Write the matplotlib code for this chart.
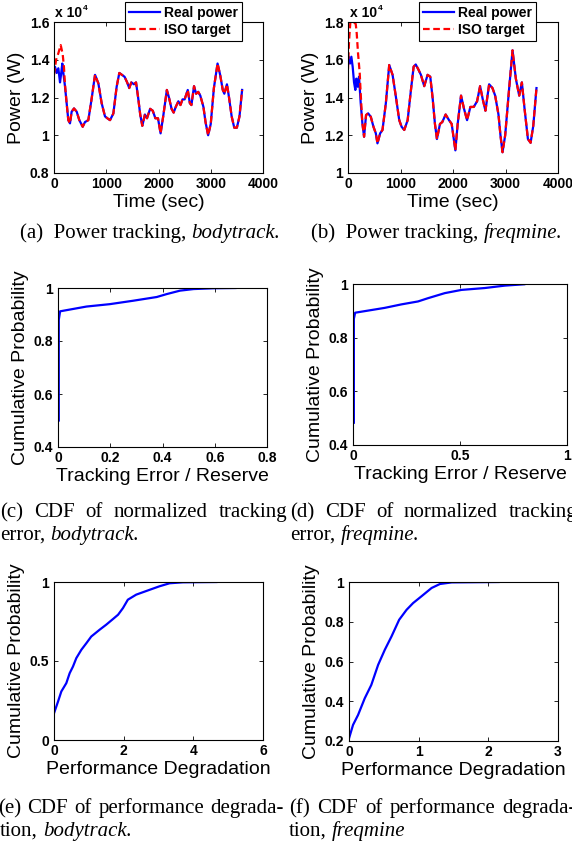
import matplotlib
matplotlib.use('Agg')
import matplotlib.pyplot as plt
from matplotlib.ticker import FuncFormatter

# ---- power tracking, bodytrack (W) ----
t_real_a = [0, 19, 51, 83, 115, 134, 159, 179, 210, 242]
p_real_a = [13300, 13630, 13300, 13550, 12800, 13200, 13800, 13300, 12600, 11700]
t_iso_a = [0, 40, 83, 128, 166, 191, 210, 242]
p_iso_a = [13200, 14000, 14340, 14780, 14300, 13600, 12700, 11700]
# after the start-up both curves overlap
t_tail_a = [274, 306, 338, 383, 434, 485, 549, 593, 657, 721, 785, 849, 912, 976,
            1021, 1072, 1136, 1199, 1250, 1300, 1350, 1400, 1440, 1480, 1530, 1570,
            1610, 1650, 1690, 1740, 1780, 1840, 1890, 1940, 1990, 2040, 2090, 2160,
            2200, 2250, 2290, 2330, 2380, 2420, 2460, 2500, 2560, 2600, 2630, 2680,
            2720, 2760, 2800, 2860, 2900, 2950, 3000, 3060, 3130, 3180, 3230, 3260,
            3310, 3350, 3400, 3450, 3500, 3550, 3600]
p_tail_a = [10800, 10630, 11250, 11420, 11250, 10800, 10450, 10700, 10800, 11950,
            13200, 12750, 11700, 11000, 10900, 10800, 11150, 12570, 13300, 13200,
            13100, 12800, 12500, 12800, 12700, 12800, 12000, 11100, 10500, 11100,
            10900, 11400, 11300, 10900, 10900, 10100, 11000, 12400, 12000, 11400,
            11200, 11500, 11800, 11600, 11900, 11900, 12400, 11700, 11600, 12600,
            12200, 12300, 12100, 11500, 10700, 10000, 10600, 12500, 13800, 13200,
            12400, 12200, 12700, 12000, 11000, 10400, 10400, 11000, 12400]

# ---- power tracking, freqmine (W) ----
t_real_b = [0, 13, 38, 64, 89, 115, 140, 159, 185, 210, 242]
p_real_b = [15800, 16160, 15800, 16160, 15630, 14800, 14400, 15000, 14570, 15100, 13700]
t_iso_b = [0, 20, 45, 100, 147, 166, 191, 223, 242]
p_iso_b = [15500, 17000, 18000, 18000, 17900, 17400, 16340, 15300, 14200]
t_tail_b = [274, 306, 344, 383, 434, 485, 530, 561, 612, 657, 721, 785, 849, 912,
            976, 1021, 1072, 1136, 1199, 1250, 1290, 1338, 1389, 1452, 1516, 1567,
            1611, 1656, 1694, 1752, 1796, 1860, 1924, 1975, 2045, 2089, 2153, 2210,
            2268, 2331, 2395, 2459, 2516, 2567, 2618, 2688, 2752, 2803, 2866, 2904,
            2943, 2994, 3070, 3134, 3197, 3261, 3312, 3363, 3427, 3478, 3529, 3590]
p_tail_b = [12630, 11920, 13070, 13160, 12980, 12450, 12100, 11570, 12100, 12280,
            13700, 15720, 15200, 14040, 12800, 12450, 12280, 12800, 14400, 15630,
            15750, 15500, 15200, 14600, 15200, 15100, 14000, 12600, 11800, 12600,
            12700, 13100, 12800, 12600, 11200, 12600, 14100, 13400, 12800, 13500,
            13500, 13800, 14600, 13900, 13300, 14700, 14500, 14100, 13100, 12000,
            11100, 12000, 14500, 16500, 15000, 14100, 14800, 13400, 11800, 11600,
            12500, 14500]

# ---- CDF of normalized tracking error ----
err_c = [0.003, 0.003, 0.008, 0.109, 0.198, 0.288, 0.378, 0.416, 0.467, 0.519, 0.595, 0.679]
cdf_c = [0.50, 0.88, 0.912, 0.930, 0.939, 0.952, 0.966, 0.977, 0.990, 0.996, 0.999, 1.0]
err_d = [0.004, 0.004, 0.010, 0.148, 0.226, 0.304, 0.350, 0.429, 0.507, 0.616, 0.710, 0.800]
cdf_d = [0.483, 0.87, 0.893, 0.911, 0.924, 0.935, 0.947, 0.966, 0.978, 0.985, 0.994, 0.999]

# ---- CDF of performance degradation ----
deg_e = [0.0, 0.115, 0.21, 0.354, 0.45, 0.545, 0.64, 0.785, 0.93, 1.07, 1.31, 1.50,
         1.69, 1.84, 1.98, 2.12, 2.36, 2.75, 3.03, 3.32, 3.70, 4.66]
cdf_e = [0.169, 0.243, 0.307, 0.36, 0.423, 0.465, 0.518, 0.571, 0.613, 0.655, 0.698,
         0.73, 0.765, 0.793, 0.835, 0.888, 0.92, 0.951, 0.973, 0.992, 0.998, 1.0]
deg_f = [0.0, 0.058, 0.13, 0.226, 0.32, 0.418, 0.514, 0.61, 0.72, 0.826, 0.92, 1.04,
         1.186, 1.306, 1.474, 2.146]
cdf_f = [0.213, 0.281, 0.331, 0.415, 0.482, 0.583, 0.659, 0.726, 0.81, 0.86, 0.894,
         0.928, 0.97, 0.99, 0.998, 1.0]

plt.rcParams['font.family'] = ['Liberation Sans', 'DejaVu Sans']
plt.rcParams['font.weight'] = 'bold'
plt.rcParams['axes.linewidth'] = 0.8
plt.rcParams['xtick.direction'] = 'in'
plt.rcParams['ytick.direction'] = 'in'
plt.rcParams['xtick.top'] = True
plt.rcParams['ytick.right'] = True
plt.rcParams['xtick.major.size'] = 3
plt.rcParams['ytick.major.size'] = 3
plt.rcParams['xtick.major.width'] = 0.6
plt.rcParams['ytick.major.width'] = 0.6
plt.rcParams['xtick.labelsize'] = 10
plt.rcParams['ytick.labelsize'] = 10
plt.rcParams['xtick.major.pad'] = 3
plt.rcParams['ytick.major.pad'] = 3.5

W, H = 572, 841
fig = plt.figure(figsize=(W / 100, H / 100), dpi=100)
renderer = fig.canvas.get_renderer()


def px_axes(l, t, r, b):
    return fig.add_axes([l / W, 1 - b / H, (r - l) / W, (b - t) / H])


def style(ax, xlim, xticks, ylim, yticks, xlabel, ylabel, yscale=1.0):
    ax.set_xlim(xlim)
    ax.set_xticks(xticks)
    ax.set_ylim(ylim)
    ax.set_yticks(yticks)
    ax.xaxis.set_major_formatter(FuncFormatter(lambda v, p: '%g' % v))
    ax.yaxis.set_major_formatter(FuncFormatter(lambda v, p: '%g' % (v / yscale)))
    ax.set_xlabel(xlabel, fontsize=14, fontweight='normal', labelpad=2)
    ax.set_ylabel(ylabel, fontsize=14, fontweight='normal', labelpad=3)


def text_w(s, **kw):
    t = fig.text(0, 0, s, **kw)
    w = t.get_window_extent(renderer).width
    t.remove()
    return w


def pieces(x, y, parts, center=False):
    # parts: list of (text, fontstyle); a space goes between parts
    kw = dict(fontsize=15, fontweight='normal', family='Liberation Serif')
    sp = text_w('a a', **kw) - text_w('aa', **kw)
    widths = [text_w(s, fontstyle=st, **kw) for s, st in parts]
    total = sum(widths) + sp * (len(parts) - 1)
    cur = x - total / 2 if center else x
    for (s, st), w in zip(parts, widths):
        fig.text(cur / W, 1 - y / H, s, fontstyle=st, ha='left',
                 va='center_baseline', **kw)
        cur += w + sp


def justify(x0, x1, y, words):
    kw = dict(fontsize=15, fontweight='normal', family='Liberation Serif')
    widths = [text_w(s, **kw) for s in words]
    gap = (x1 - x0 - sum(widths)) / (len(words) - 1)
    cur = x0
    for s, w in zip(words, widths):
        fig.text(cur / W, 1 - y / H, s, ha='left', va='center_baseline', **kw)
        cur += w + gap


def exponent(ax, x, y):
    t = fig.text(x / W, 1 - y / H, 'x 10', fontsize=10, ha='left', va='center')
    ax.annotate('4', xy=(1, 0.55), xycoords=t, xytext=(0.5, 0),
                textcoords='offset points', fontsize=6, ha='left', va='bottom')


def power_panel(ax, t_real, p_real, t_iso, p_iso, t_tail, p_tail, ylim, legend_right):
    ax.plot(t_real + t_tail, p_real + p_tail, color='blue', lw=1.6, label='Real power')
    ax.plot(t_iso + t_tail, p_iso + p_tail, color='red', lw=1.6, dashes=(3, 1.6),
            label='ISO target')
    leg = ax.legend(loc='upper right', bbox_to_anchor=(legend_right / W, 1 - 2 / H),
                    bbox_transform=fig.transFigure, fontsize=10, fancybox=False,
                    edgecolor='black', framealpha=1, borderaxespad=0,
                    handlelength=2.2, borderpad=0.3, labelspacing=0.2,
                    handletextpad=0.3)
    leg.get_frame().set_linewidth(0.8)
    style(ax, (0, 4000), [0, 1000, 2000, 3000, 4000], ylim,
          [ylim[0] + i * 2000 for i in range(5)], 'Time (sec)', 'Power (W)', yscale=1e4)


ax_a = px_axes(54, 22, 263, 173)
power_panel(ax_a, t_real_a, p_real_a, t_iso_a, p_iso_a, t_tail_a, p_tail_a,
            (8000, 16000), 242)
exponent(ax_a, 55, 13)

ax_b = px_axes(348, 22, 558, 173)
power_panel(ax_b, t_real_b, p_real_b, t_iso_b, p_iso_b, t_tail_b, p_tail_b,
            (10000, 18000), 536)
exponent(ax_b, 350, 13)

ax_c = px_axes(58, 288, 267, 447)
ax_c.plot(err_c, cdf_c, color='blue', lw=1.6)
style(ax_c, (0, 0.8), [0, 0.2, 0.4, 0.6, 0.8], (0.4, 1), [0.4, 0.6, 0.8, 1],
      'Tracking Error / Reserve', 'Cumulative Probability')

ax_d = px_axes(353, 284, 567, 445)
ax_d.plot(err_d, cdf_d, color='blue', lw=1.6)
style(ax_d, (0, 1), [0, 0.5, 1], (0.4, 1), [0.4, 0.6, 0.8, 1],
      'Tracking Error / Reserve', 'Cumulative Probability')

ax_e = px_axes(54, 582, 263, 740)
ax_e.plot(deg_e, cdf_e, color='blue', lw=1.6)
style(ax_e, (0, 6), [0, 2, 4, 6], (0, 1), [0, 0.5, 1],
      'Performance Degradation', 'Cumulative Probability')

ax_f = px_axes(349, 582, 558, 741)
ax_f.plot(deg_f, cdf_f, color='blue', lw=1.6)
style(ax_f, (0, 3), [0, 1, 2, 3], (0.2, 1), [0.2, 0.4, 0.6, 0.8, 1],
      'Performance Degradation', 'Cumulative Probability')

# captions
pieces(150, 231, [('(a)  Power tracking,', 'normal'), ('bodytrack.', 'italic')], center=True)
pieces(437, 231, [('(b)  Power tracking,', 'normal'), ('freqmine.', 'italic')], center=True)
justify(0, 287, 510, ['(c)', 'CDF', 'of', 'normalized', 'tracking'])
pieces(0, 533, [('error,', 'normal'), ('bodytrack.', 'italic')])
justify(290, 577, 510, ['(d)', 'CDF', 'of', 'normalized', 'tracking'])
pieces(290, 533, [('error,', 'normal'), ('freqmine.', 'italic')])
justify(-2, 284, 806, ['(e)', 'CDF', 'of', 'performance', 'degrada-'])
pieces(0, 829, [('tion,', 'normal'), ('bodytrack.', 'italic')])
justify(289, 576, 806, ['(f)', 'CDF', 'of', 'performance', 'degrada-'])
pieces(289, 829, [('tion,', 'normal'), ('freqmine', 'italic')])

fig.savefig('out.png', dpi=100)
